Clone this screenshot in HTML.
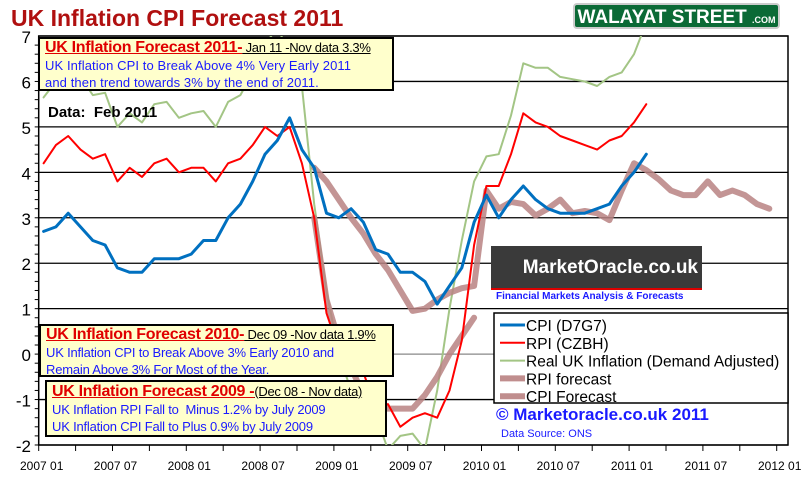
<!DOCTYPE html>
<html><head><meta charset="utf-8"><style>
body{margin:0;background:#fff;width:807px;height:492px;overflow:hidden;position:relative;font-family:"Liberation Sans",Arial,sans-serif}
.box{position:absolute;background:#ffffcc;border:2px solid #000;box-sizing:border-box;padding:1px 5px;white-space:nowrap;z-index:2;overflow:hidden}
.h{color:#e00000;font-weight:bold;font-size:16px;text-decoration:underline;letter-spacing:-0.3px}
.s{color:#000;font-size:13px;text-decoration:underline;letter-spacing:-0.3px}
.b{color:#1a1aff;font-size:13px;line-height:17px;letter-spacing:0.1px}
.top{position:absolute;z-index:2}
</style></head><body>
<div class="top" style="left:11px;top:5px;font-size:23px;font-weight:bold;color:#b01010">UK Inflation CPI Forecast 2011</div>
<div class="top" style="left:573px;top:3px;width:207px;height:26px;background:#0b6a36;border:2px solid #ccc;border-radius:4px;color:#fff;font-weight:bold;font-size:19px;text-align:center;line-height:26px;box-sizing:border-box">WALAYAT STREET <span style="font-size:9px">.COM</span></div>
<svg id="chart" width="807" height="492" style="position:absolute;left:0;top:0;z-index:1"></svg>
<div class="box" style="left:38px;top:37px;width:356px;height:54px;padding-top:0">
<div><span class="h">UK Inflation Forecast 2011-</span><span class="s"> Jan 11 -Nov data 3.3%</span></div>
<div class="b">UK Inflation CPI to Break Above 4% Very Early 2011<br>and then trend towards 3% by the end of 2011.</div></div>
<div class="top" style="left:48px;top:104px;font-weight:bold;font-size:15px">Data:&nbsp; Feb 2011</div>
<div class="box" style="left:39px;top:324px;width:355px;height:53px;padding-top:0">
<div><span class="h">UK Inflation Forecast 2010-</span><span class="s"> Dec 09 -Nov data 1.9%</span></div>
<div class="b" style="letter-spacing:-0.2px">UK Inflation CPI to Break Above 3% Early 2010 and<br>Remain Above 3% For Most of the Year.</div></div>
<div class="box" style="left:45px;top:380px;width:342px;height:57px;padding-top:1px">
<div><span class="h">UK Inflation Forecast 2009 -</span><span class="s">(Dec 08 - Nov data)</span></div>
<div class="b" style="letter-spacing:-0.2px">UK Inflation RPI Fall to&nbsp; Minus 1.2% by July 2009<br>UK Inflation CPI Fall to Plus 0.9% by July 2009</div></div>
<div class="top" style="left:491px;top:246px;width:211px;height:44px;background:#3a3a3a;border-bottom:2px solid #d00;color:#fff;font-weight:bold;font-size:19px;line-height:44px;text-align:right;padding-right:4px;box-sizing:border-box">MarketOracle.co.uk</div>
<div class="top" style="left:491px;top:291px;width:211px;height:13px;background:#fff;font-size:10px;font-weight:bold;color:#1a1aff;padding-left:5px;box-sizing:border-box">Financial Markets Analysis &amp; Forecasts</div>
<div class="top" style="left:496px;top:405px;font-size:17px;font-weight:bold;color:#1a1aff">© Marketoracle.co.uk 2011</div>
<div class="top" style="left:501px;top:428px;font-size:11px;color:#1a1aff">Data Source: ONS</div>
<script>
const cpi=[2.7,2.8,3.1,2.8,2.5,2.4,1.9,1.8,1.8,2.1,2.1,2.1,2.2,2.5,2.5,3.0,3.3,3.8,4.4,4.7,5.2,4.5,4.1,3.1,3.0,3.2,2.9,2.3,2.2,1.8,1.8,1.6,1.1,1.5,1.9,2.9,3.5,3.0,3.4,3.7,3.4,3.2,3.1,3.1,3.1,3.2,3.3,3.7,4.0,4.4];
const rpi=[4.2,4.6,4.8,4.5,4.3,4.4,3.8,4.1,3.9,4.2,4.3,4.0,4.1,4.1,3.8,4.2,4.3,4.6,5.0,4.8,5.0,4.2,3.0,0.9,0.1,0.0,-0.4,-1.2,-1.1,-1.6,-1.4,-1.3,-1.4,-0.8,0.3,2.4,3.7,3.7,4.4,5.3,5.1,5.0,4.8,4.7,4.6,4.5,4.7,4.8,5.1,5.5];
const realInf=[5.65,6.0,6.3,6.1,5.7,5.75,5.0,5.3,5.1,5.5,5.55,5.2,5.3,5.35,5.0,5.55,5.7,6.2,6.8,7.2,6.6,5.9,3.3,1.4,0.0,-0.8,-1.3,-1.35,-2.1,-1.8,-1.75,-2.1,-0.8,1.0,2.5,3.8,4.35,4.4,5.25,6.4,6.3,6.3,6.1,6.05,6.0,5.9,6.1,6.2,6.6,7.3];
const rpiFcStart=22;
const rpiFc=[3.0,1.2,0.3,-0.3,-0.9,-1.2,-1.2,-1.2,-1.2,-0.9,-0.5,0.0,0.4,0.8];
const cpiFcStart=22;
const cpiFc=[4.1,3.8,3.4,3.0,2.65,2.2,1.85,1.4,0.95,1.0,1.2,1.35,1.45,1.5,3.6,3.2,3.35,3.3,3.05,3.2,3.4,3.1,3.15,3.1,2.95,3.6,4.2,4.05,3.85,3.6,3.5,3.5,3.8,3.5,3.6,3.5,3.3,3.2];
const yTicks=[-2,-1,0,1,2,3,4,5,6,7];
const xLabels=["2007 01","2007 07","2008 01","2008 07","2009 01","2009 07","2010 01","2010 07","2011 01","2011 07","2012 01"];
const X0=38.7,MW=12.3,Y0=354.1,UY=45.44,TOP=36,BOT=445,RIGHT=788;
const xm=m=>X0+(m+0.4)*MW, xt=m=>X0+m*MW, y=v=>Y0-v*UY;
const svg=document.getElementById('chart');const NS='http://www.w3.org/2000/svg';
function mk(t,a,txt){const e=document.createElementNS(NS,t);for(const k in a)e.setAttribute(k,a[k]);if(txt!=null)e.textContent=txt;svg.appendChild(e);return e;}
const clip=mk('clipPath',{id:'pc'});const cr=document.createElementNS(NS,'rect');cr.setAttribute('x',X0);cr.setAttribute('y',TOP);cr.setAttribute('width',RIGHT-X0);cr.setAttribute('height',BOT-TOP);clip.appendChild(cr);
yTicks.forEach(v=>{const g=mk('line',{x1:X0,x2:RIGHT,y1:y(v),y2:y(v),stroke:v===0?'#888':'#000','stroke-width':1.3});

const t=mk('text',{x:31,y:y(v)+7,'text-anchor':'end','font-size':17,fill:'#000'},String(v));
});
for(let i=0;i<45;i++){const v=-2+i*0.2;mk('line',{x1:X0-4,x2:X0,y1:y(v),y2:y(v),stroke:'#000'});}
mk('rect',{x:X0,y:TOP,width:RIGHT-X0,height:BOT-TOP,fill:'none',stroke:'#000','stroke-width':1.5});
for(let m=0;m<=60;m+=3){mk('line',{x1:xt(m),x2:xt(m),y1:BOT,y2:BOT+6,stroke:'#000'});}
xLabels.forEach((l,i)=>{const t=mk('text',{x:xt(i*6)+3,y:470,'text-anchor':'middle','font-size':12,fill:'#000'},l);
});
function series(arr,start,col,w,name){const p=arr.map((v,i)=>xm(start+i).toFixed(1)+','+y(v).toFixed(1)).join(' ');
const e=mk('polyline',{points:p,fill:'none',stroke:col,'stroke-width':w,'clip-path':'url(#pc)','stroke-linejoin':'round','stroke-linecap':'round'});
}
series(realInf,0,'#a3c585',2,'real-inflation-line');
series(rpiFc,rpiFcStart,'rgba(185,130,130,0.85)',6,'rpi-forecast-line');
series(cpiFc,cpiFcStart,'rgba(185,130,130,0.85)',6,'cpi-forecast-line');
series(rpi,0,'#ff0000',2,'rpi-line');
series(cpi,0,'#0070c0',3,'cpi-line');
const lg=mk('rect',{x:494,y:313,width:294,height:90,fill:'#fff',stroke:'#000','stroke-width':1.5});

const L=[['CPI (D7G7)','#0070c0',3],['RPI (CZBH)','#ff0000',2],['Real UK Inflation (Demand Adjusted)','#a3c585',2],['RPI forecast','rgba(185,130,130,0.9)',6],['CPI Forecast','rgba(185,130,130,0.9)',6]];
L.forEach((e,i)=>{const yy=325+i*17.8;mk('line',{x1:500,x2:525,y1:yy,y2:yy,stroke:e[1],'stroke-width':e[2]});
const t=mk('text',{x:526,y:yy+6,'font-size':15.5,fill:'#000'},e[0]);});
</script></body></html>
